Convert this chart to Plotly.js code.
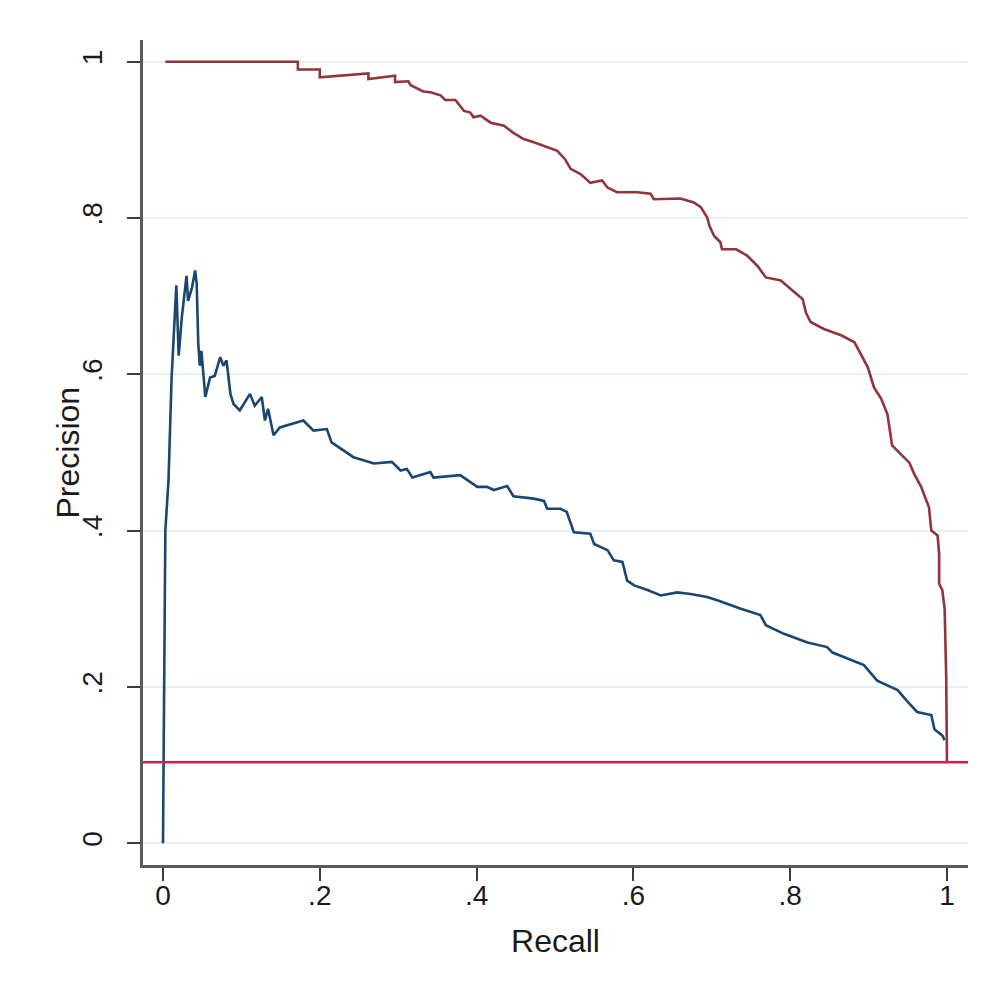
<!DOCTYPE html>
<html>
<head>
<meta charset="utf-8">
<script src="https://cdn.plot.ly/plotly-3.0.1.min.js"></script>
<style>html,body{margin:0;padding:0;background:#fff;}#chart{width:992px;height:995px;}</style>
</head>
<body>
<div id="chart"></div>
<script>
// Precision–recall curves
const redRecall = [0.003,0.172,0.172,0.200,0.200,0.262,0.262,0.296,0.296,0.313,0.316,0.325,0.332,0.341,0.354,0.360,0.373,0.384,0.392,0.396,0.405,0.418,0.435,0.447,0.460,0.473,0.494,0.503,0.513,0.520,0.533,0.545,0.560,0.567,0.579,0.605,0.622,0.626,0.660,0.677,0.686,0.694,0.697,0.703,0.711,0.713,0.731,0.745,0.758,0.769,0.788,0.801,0.816,0.820,0.826,0.843,0.865,0.882,0.892,0.899,0.907,0.916,0.924,0.930,0.941,0.952,0.958,0.967,0.977,0.980,0.988,0.990,0.990,0.994,0.997,0.999,1.000];
const redPrecision = [1.000,1.000,0.990,0.990,0.980,0.985,0.978,0.982,0.974,0.975,0.970,0.966,0.962,0.961,0.957,0.951,0.951,0.937,0.935,0.929,0.931,0.922,0.918,0.909,0.901,0.897,0.890,0.886,0.875,0.863,0.856,0.845,0.848,0.839,0.833,0.833,0.831,0.824,0.825,0.820,0.814,0.801,0.790,0.777,0.769,0.760,0.760,0.752,0.739,0.724,0.720,0.709,0.696,0.679,0.667,0.658,0.650,0.641,0.622,0.609,0.583,0.569,0.549,0.509,0.498,0.487,0.473,0.456,0.430,0.400,0.394,0.370,0.332,0.324,0.300,0.213,0.103];

const blueRecall = [0.000,0.003,0.003,0.007,0.011,0.017,0.020,0.024,0.030,0.032,0.037,0.041,0.043,0.045,0.047,0.049,0.054,0.060,0.066,0.073,0.077,0.081,0.086,0.090,0.098,0.111,0.117,0.126,0.130,0.134,0.141,0.149,0.179,0.192,0.209,0.215,0.243,0.269,0.292,0.303,0.311,0.318,0.341,0.345,0.379,0.401,0.413,0.422,0.439,0.447,0.473,0.486,0.490,0.507,0.515,0.524,0.545,0.550,0.567,0.575,0.586,0.592,0.601,0.618,0.635,0.656,0.673,0.694,0.707,0.737,0.762,0.769,0.792,0.822,0.847,0.854,0.894,0.911,0.937,0.950,0.962,0.980,0.984,0.994,0.997];
const bluePrecision = [0.000,0.333,0.400,0.464,0.596,0.714,0.624,0.673,0.726,0.694,0.711,0.733,0.716,0.639,0.611,0.630,0.571,0.596,0.598,0.622,0.611,0.618,0.575,0.562,0.554,0.575,0.560,0.571,0.541,0.556,0.522,0.532,0.541,0.528,0.530,0.513,0.494,0.486,0.488,0.477,0.479,0.468,0.475,0.468,0.471,0.456,0.456,0.452,0.457,0.444,0.441,0.438,0.428,0.428,0.424,0.398,0.396,0.383,0.375,0.362,0.360,0.336,0.330,0.324,0.317,0.321,0.319,0.315,0.311,0.300,0.292,0.279,0.268,0.257,0.251,0.244,0.228,0.208,0.196,0.181,0.168,0.164,0.146,0.138,0.132];

const baselinePrecision = 0.1036;

const xTickVals = [0, 0.2, 0.4, 0.6, 0.8, 1];
const xTickText = ['0', '.2', '.4', '.6', '.8', '1'];
const yTickVals = [0, 0.2, 0.4, 0.6, 0.8, 1];
const yTickText = ['0', '.2', '.4', '.6', '.8', '1'];

const FONT = 'Liberation Sans, Arial, sans-serif';

const traces = [
  {x: blueRecall, y: bluePrecision, type: 'scatter', mode: 'lines',
   line: {color: '#1a476f', width: 2.6}, hoverinfo: 'skip'},
  {x: redRecall, y: redPrecision, type: 'scatter', mode: 'lines',
   line: {color: '#90353b', width: 2.6}, hoverinfo: 'skip'}
];

const layout = {
  width: 992, height: 995,
  margin: {l: 143, r: 24, t: 40, b: 130, pad: 0},
  paper_bgcolor: '#ffffff', plot_bgcolor: '#ffffff',
  showlegend: false,
  font: {family: FONT, color: '#1a1a1a', size: 26},
  xaxis: {
    range: [-0.0255, 1.0268], autorange: false,
    tickvals: xTickVals, ticktext: xTickText,
    ticks: 'outside', ticklen: 13, tickwidth: 2, tickcolor: '#3c3c3c',
    showline: true, linecolor: '#5a5a5a', linewidth: 3,
    showgrid: false, zeroline: false,
    tickfont: {family: FONT, size: 28, color: '#1a1a1a'},
    ticklabelstandoff: -10,
    title: {text: 'Recall', font: {family: FONT, size: 32, color: '#1a1a1a'}, standoff: 21},
    automargin: false
  },
  yaxis: {
    range: [-0.0278, 1.0278], autorange: false,
    tickvals: yTickVals, ticktext: yTickText, tickangle: -90,
    ticks: 'outside', ticklen: 13, tickwidth: 2, tickcolor: '#3c3c3c',
    showline: true, linecolor: '#5a5a5a', linewidth: 3,
    showgrid: true, gridcolor: '#e6eff2', gridwidth: 2,
    zeroline: false,
    tickfont: {family: FONT, size: 28, color: '#1a1a1a'},
    ticklabelstandoff: 14,
    automargin: false
  },
  annotations: [
    {text: 'Precision', xref: 'paper', yref: 'paper',
     x: (67 - 143) / 825, y: 0.5, xanchor: 'center', yanchor: 'middle',
     textangle: -90, showarrow: false,
     font: {family: FONT, size: 32, color: '#1a1a1a'}}
  ],
  shapes: [
    {type: 'line', xref: 'paper', yref: 'y', x0: 0, x1: 1,
     y0: baselinePrecision, y1: baselinePrecision,
     line: {color: '#cf1f4f', width: 2.6}, layer: 'above'}
  ]
};

Plotly.newPlot('chart', traces, layout, {displayModeBar: false, staticPlot: true});
</script>
</body>
</html>
